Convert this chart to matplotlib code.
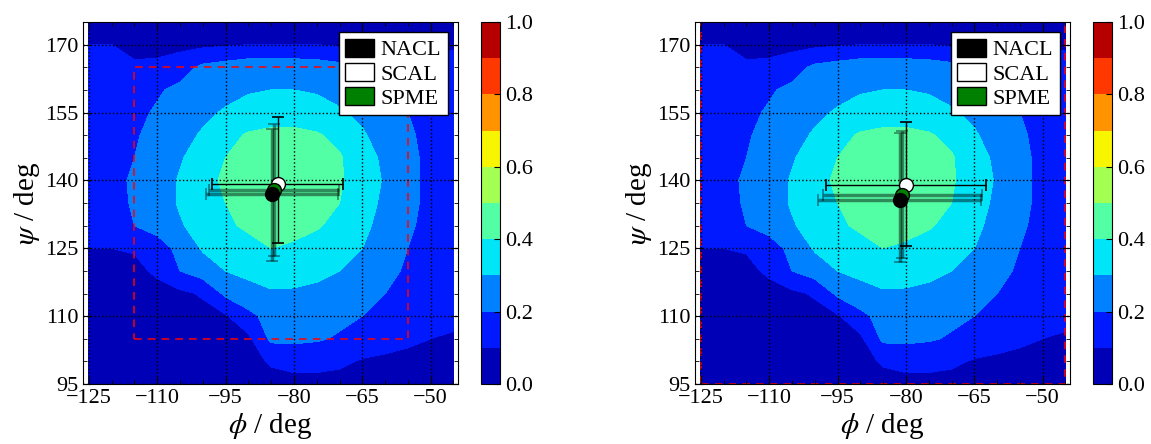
import numpy as np
import matplotlib
matplotlib.use("Agg")
import matplotlib.pyplot as plt
from matplotlib.patches import Patch, Rectangle

plt.rcParams['font.family'] = ['Liberation Serif', 'DejaVu Serif']
plt.rcParams['mathtext.fontset'] = 'stix'

# ---- population map on a 5 deg grid ----
phi = [-125, -120, -115, -110, -105, -100, -95, -90, -85, -80, -75, -70, -65, -60, -55, -50, -45]
psi = [175, 170, 165, 160, 155, 150, 145, 140, 135, 130, 125, 120, 115, 110, 105, 100, 95]
density = [
    [0.04, 0.05, 0.05, 0.06, 0.06, 0.07, 0.08, 0.08, 0.09, 0.09, 0.08, 0.08, 0.07, 0.06, 0.06, 0.05, 0.05],
    [0.10, 0.10, 0.08, 0.07, 0.07, 0.08, 0.09, 0.10, 0.10, 0.10, 0.10, 0.09, 0.09, 0.09, 0.09, 0.09, 0.09],
    [0.13, 0.13, 0.11, 0.12, 0.16, 0.22, 0.24, 0.26, 0.26, 0.26, 0.25, 0.23, 0.21, 0.17, 0.15, 0.14, 0.13],
    [0.14, 0.15, 0.17, 0.19, 0.22, 0.25, 0.27, 0.29, 0.30, 0.30, 0.29, 0.27, 0.24, 0.21, 0.18, 0.16, 0.15],
    [0.15, 0.16, 0.18, 0.21, 0.25, 0.28, 0.31, 0.34, 0.36, 0.36, 0.34, 0.31, 0.28, 0.24, 0.20, 0.17, 0.16],
    [0.15, 0.17, 0.19, 0.23, 0.27, 0.31, 0.37, 0.41, 0.42, 0.42, 0.41, 0.37, 0.31, 0.26, 0.21, 0.18, 0.16],
    [0.15, 0.17, 0.20, 0.25, 0.29, 0.35, 0.40, 0.43, 0.44, 0.44, 0.43, 0.41, 0.34, 0.28, 0.22, 0.18, 0.16],
    [0.16, 0.18, 0.21, 0.25, 0.31, 0.38, 0.41, 0.44, 0.45, 0.45, 0.44, 0.41, 0.35, 0.29, 0.22, 0.18, 0.16],
    [0.16, 0.17, 0.21, 0.25, 0.31, 0.37, 0.40, 0.43, 0.44, 0.44, 0.43, 0.40, 0.34, 0.28, 0.22, 0.18, 0.16],
    [0.15, 0.17, 0.20, 0.24, 0.29, 0.34, 0.39, 0.41, 0.42, 0.42, 0.41, 0.37, 0.32, 0.27, 0.21, 0.18, 0.16],
    [0.10, 0.10, 0.11, 0.15, 0.23, 0.31, 0.35, 0.38, 0.40, 0.39, 0.36, 0.34, 0.30, 0.25, 0.20, 0.17, 0.15],
    [0.06, 0.06, 0.07, 0.12, 0.20, 0.25, 0.30, 0.32, 0.34, 0.33, 0.32, 0.30, 0.26, 0.22, 0.19, 0.16, 0.15],
    [0.05, 0.05, 0.05, 0.06, 0.08, 0.11, 0.22, 0.27, 0.29, 0.29, 0.28, 0.26, 0.23, 0.20, 0.17, 0.15, 0.14],
    [0.04, 0.04, 0.05, 0.05, 0.06, 0.07, 0.09, 0.17, 0.24, 0.24, 0.24, 0.22, 0.20, 0.18, 0.15, 0.13, 0.12],
    [0.04, 0.04, 0.04, 0.05, 0.05, 0.06, 0.07, 0.08, 0.22, 0.22, 0.21, 0.19, 0.17, 0.14, 0.12, 0.10, 0.09],
    [0.04, 0.04, 0.04, 0.04, 0.05, 0.05, 0.06, 0.07, 0.11, 0.13, 0.13, 0.12, 0.09, 0.08, 0.07, 0.06, 0.06],
    [0.03, 0.03, 0.04, 0.04, 0.04, 0.05, 0.05, 0.06, 0.07, 0.07, 0.07, 0.06, 0.06, 0.05, 0.05, 0.05, 0.05],
]

# ---- averages with error bars ----
labels = ["NACL", "SCAL", "SPME"]
colors = ["black", "white", "green"]

left_phi = [-84.9, -83.6, -84.4]
left_psi = [136.9, 139.3, 137.8]
left_phi_err = [14.5, 14.4, 14.3]
left_psi_err_lo = [14.8, 13.2, 14.6]
left_psi_err_hi = [14.5, 14.7, 14.7]

right_phi = [-81.4, -80.0, -80.8]
right_psi = [135.6, 138.9, 136.7]
right_phi_err = [17.8, 17.5, 17.5]
right_psi_err_lo = [13.7, 13.5, 13.9]
right_psi_err_hi = [14.8, 14.1, 14.3]

# sampling windows (phi0, psi0, phi1, psi1)
left_box = (-115, 105, -55, 165)
right_box = (-125, 95, -45, 175)

xticks = [-125, -110, -95, -80, -65, -50]
yticks = [95, 110, 125, 140, 155, 170]
levels = np.linspace(0, 1, 11)

fig = plt.figure(figsize=(11.51, 4.44), dpi=100)
ax_pos = [[0.0721, 0.1351, 0.3258, 0.8153], [0.6038, 0.1351, 0.3258, 0.8153]]
cb_pos = [[0.4179, 0.1351, 0.0165, 0.8153], [0.9496, 0.1351, 0.0165, 0.8153]]

panels = [
    (left_phi, left_psi, left_phi_err, left_psi_err_lo, left_psi_err_hi, left_box),
    (right_phi, right_psi, right_phi_err, right_psi_err_lo, right_psi_err_hi, right_box),
]

for k, (px, py, pxe, pye_lo, pye_hi, box) in enumerate(panels):
    ax = fig.add_axes(ax_pos[k])
    cax = fig.add_axes(cb_pos[k])
    cf = ax.contourf(phi, psi, np.array(density), levels=levels, cmap='jet', vmin=0, vmax=1)

    ax.add_patch(Rectangle((box[0], box[1]), box[2] - box[0], box[3] - box[1],
                           fill=False, edgecolor='red', linestyle=(0, (5, 4)), lw=1.1, zorder=2.2))

    # draw order: SCAL, SPME, NACL so NACL sits on top
    for i in [1, 2, 0]:
        if i == 1:
            elw, ealpha = 1.0, 1.0
        else:
            elw, ealpha = 2.5, 0.45
        ax.errorbar(px[i], py[i], xerr=pxe[i], yerr=[[pye_lo[i]], [pye_hi[i]]],
                    fmt='none', ecolor='black', elinewidth=elw, capsize=4, capthick=1.2,
                    alpha=ealpha, zorder=4)
        ax.plot(px[i], py[i], 'o', ms=10, mfc=colors[i], mec='black', mew=1, zorder=5)

    ax.set_xlim(-126.3, -44.0)
    ax.set_ylim(95, 175)
    ax.set_xticks(xticks)
    ax.set_yticks(yticks)
    ax.set_xticks(np.arange(-125, -44, 5), minor=True)
    ax.set_yticks(np.arange(95, 176, 5), minor=True)
    ax.tick_params(which='both', direction='in', top=True, right=True, labelsize=16)
    ax.tick_params(which='major', length=6)
    ax.tick_params(which='minor', length=3)
    ax.grid(True, which='major', color='black', linestyle=':', linewidth=1.0)
    ax.set_axisbelow(False)
    ax.set_xlabel(r'$\phi$ / deg', fontsize=21, labelpad=2)
    ax.set_ylabel(r'$\psi$ / deg', fontsize=21, labelpad=2)

    handles = [Patch(facecolor=c, edgecolor='black', label=l) for c, l in zip(colors, labels)]
    leg = ax.legend(handles=handles, loc='upper right', fontsize=16, frameon=True, fancybox=False,
                    framealpha=1, edgecolor='black', handlelength=1.3, handleheight=0.9,
                    handletextpad=0.3, labelspacing=0.1, borderpad=0.3, borderaxespad=0.2,
                    bbox_to_anchor=(0.985, 0.985))
    leg.get_frame().set_linewidth(1.0)

    cb = fig.colorbar(cf, cax=cax, ticks=[0.0, 0.2, 0.4, 0.6, 0.8, 1.0])
    cb.ax.set_yticklabels(['0.0', '0.2', '0.4', '0.6', '0.8', '1.0'])
    cb.ax.tick_params(labelsize=16, direction='in', length=4)

fig.savefig('out.png', dpi=100)
